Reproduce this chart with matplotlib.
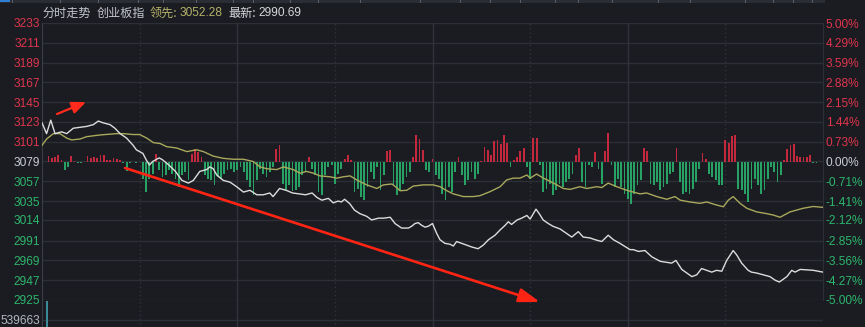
import matplotlib
matplotlib.use('Agg')
import matplotlib.pyplot as plt
from matplotlib.patches import Rectangle

# -------- data --------
price_ticks = [3233, 3211, 3189, 3167, 3145, 3123, 3101, 3079, 3057, 3035, 3014, 2991, 2969, 2947, 2925]
pct_labels = ['5.00%', '4.29%', '3.59%', '2.88%', '2.15%', '1.44%', '0.73%', '0.00%',
              '-0.71%', '-1.41%', '-2.12%', '-2.85%', '-3.56%', '-4.27%', '-5.00%']
prev_close = 3079

# index price (white), minute index -> price
white_t = [0, 1.4, 2.7, 4, 6, 7.6, 9.6, 13.7, 15.8, 17.3, 18.8, 20.9, 22.4, 24, 26, 28, 29, 31, 32, 33,
           34, 35, 36, 37, 39, 41, 43, 45, 46.5, 48.5, 50.6, 51.6, 52.6, 53.7, 55.7, 57.8, 59.8, 61.9, 63.9, 66,
           68, 70, 71, 73, 75, 77, 79, 81, 83, 84.5, 86, 88, 89.5, 91, 92, 93, 94.6, 96, 97.7, 99.8,
           101.3, 103.4, 105, 107, 108.5, 110.5, 112.6, 113.6, 114.6, 115.6, 116.7, 117.7, 118.7, 120, 121.3, 122.3, 123.8, 125.4, 126.4, 127.4,
           129, 130.5, 132, 134, 135.6, 137.2, 139.2, 140.8, 142.3, 143.3, 144.3, 146, 147.4, 149, 150, 151, 151.8, 152.8, 154, 155.6,
           157, 159.2, 161.2, 162.8, 164.8, 166.3, 168.4, 170, 172, 174, 175.6, 177.6, 180.7, 181.7, 183.3, 185.3, 187.4, 190, 193.5, 194.8,
           196.6, 199.7, 201.2, 202.7, 204.3, 205.8, 207.3, 208.9, 210.4, 212.4, 213.5, 215, 217, 218, 219.6, 221.7, 223.7, 225.3, 226.6, 228.9,
           230.4, 231.4, 233, 237, 240]
white_p = [3122, 3110, 3125, 3110, 3112, 3110, 3116, 3118, 3120, 3124, 3122, 3120, 3116, 3110, 3105, 3097, 3092, 3088, 3081, 3075,
           3079, 3081, 3083, 3081, 3075, 3068, 3058, 3055, 3058, 3068, 3070, 3073, 3071, 3064, 3058, 3056, 3051, 3045, 3047, 3042,
           3042, 3044, 3040, 3049, 3047, 3044, 3043, 3042, 3044, 3039, 3036, 3038, 3033, 3035, 3034, 3037, 3032, 3025, 3021, 3018,
           3014, 3016, 3016, 3017, 3010, 3005, 3005, 3007, 3010, 3011, 3008, 3006, 3007, 3010, 2999, 2992, 2988, 2987, 2985, 2990,
           2988, 2986, 2984, 2982, 2986, 2992, 2997, 3003, 3008, 3012, 3009, 3014, 3016, 3019, 3015, 3021, 3026, 3021, 3014, 3010,
           3007, 3004, 2999, 2995, 3001, 2995, 2994, 2992, 2990, 2997, 2992, 2988, 2981, 2981, 2979, 2980, 2973, 2968, 2966, 2969,
           2959, 2951, 2953, 2960, 2958, 2956, 2958, 2957, 2969, 2980, 2975, 2966, 2958, 2956, 2955, 2953, 2951, 2947, 2945, 2951,
           2958, 2956, 2959, 2958, 2956]

# leading index (yellow)
lead_t = [0, 1.4, 3.5, 5.5, 7.6, 9.1, 11.7, 13.7, 17.8, 23, 25, 28, 30, 32.2, 34.2, 36.3, 38.3, 41.4, 44.5, 47.5,
          49.6, 52.6, 55.7, 58.8, 61.9, 64.9, 67, 69, 72.1, 74.2, 77.2, 79.3, 81.3, 83.4, 85.4, 88.5, 90.6, 92.6, 94.7, 96.7,
          99.8, 102.9, 104.9, 107.5, 109, 110, 112.1, 114.1, 117.2, 120.2, 122.3, 124.4, 126.4, 129.5, 132.5, 134.6, 137.7, 140.8, 142.8, 144.8,
          146.9, 149, 150, 152, 154.1, 156.1, 158.2, 160.2, 162.3, 165.3, 167.4, 170.5, 172, 174, 176.6, 179.7, 181.7, 183.8, 185.8, 188.9,
          192, 194.5, 196.1, 199.1, 202.2, 204.3, 207.3, 209.4, 210.9, 212.4, 214.5, 216.6, 219.6, 222.7, 224.7, 226.8, 229.9, 233.9, 237, 240]
lead_p = [3097, 3104, 3110, 3110, 3105, 3103, 3104, 3106.6, 3108.5, 3110, 3110, 3109, 3109, 3105, 3100, 3099, 3095.5, 3094, 3090, 3092,
          3090, 3085, 3082.5, 3081.5, 3081.5, 3079, 3073, 3071, 3070, 3073, 3070, 3066, 3068, 3066, 3063, 3062, 3060.5, 3062, 3063, 3058.5,
          3053, 3049, 3053, 3054, 3050, 3046.5, 3047, 3051.7, 3053, 3053, 3051, 3046.5, 3043, 3040, 3040, 3041, 3045.5, 3051, 3058.5, 3060.5,
          3060.5, 3064, 3060.5, 3065, 3060.5, 3057, 3053, 3049, 3048, 3051, 3049, 3051, 3050, 3055, 3051, 3047, 3045, 3043, 3044, 3040,
          3037, 3040, 3036, 3034, 3032.5, 3034, 3030.6, 3028.7, 3036, 3040, 3032.5, 3027, 3023, 3021, 3019.5, 3017, 3023, 3027, 3029, 3028]

# buy/sell strength bars, one per minute
strength = [0, 0, 6, 4, 5, 7, 2, -8, -5, 6, 1, -1, -1, 0, 6, 4, 5, 4, 7, 7,
            2, 2, 4, 3, 2, -1, -9, -1, 0, -1, 0, -17, -30, -17, -12, 8, -8, -15, -13, -8,
            -12, -17, -25, -13, -10, -18, 8, 13, 10, 5, -13, -17, -18, -23, -15, -17, -12, -8, -7, -10,
            -8,
            -5, -10, -18, -25, -33, -18, -7, -12, -15, -10, -5, 13, 17, -22, -28, -23, -29, -28, -25, -13,
            -10, 5, -7, -13, -30, -33, -13, -5, -3, -22, -12, -7, 3, 7, 2, -30, -27, -35, -38, -25,
            -10, -17, -5, -28, -13, 11, 12, -23, -33, -28, -22, -15, -10, 5, 27, 23, 12, -8, -10, 3,
            -13,
            -17, -32, -38, -25, -30, -10, 5, -13, -23, -18, -10, -17, -12, 1, 15, 12, 7, 21, 22, 18,
            27, 19, -5, 2, 5, 11, 14, -5, -17, 24, 24, -3, -30, -27, -22, -33, -28, -22, -25, -20,
            -17, -12, 7, 14, -20, -25, -3, -5, 10, -7, -22, 11, 29, -3, -25, -17, -25, -32, -37, -42,
            -32,
            -23, -18, 14, 11, -22, -23, -20, -28, -25, -22, -12, -10, 14, -20, -32, -30, -32, -27, -20, -7,
            9, 3, -12, -15, -18, -23, -23, 22, 19, 26, 27, -27, -28, -32, -40, -27, -17, -23, -32, -28,
            -17, -5, -10, -20, -13, 2, 13, 17, 18, 6, 5, 5, 5, 7, -1, -1, 0, 0]

vol_t = [1.5]
vol_v = [1050000]
vol_tick = 539663

# -------- style --------
BG = '#1a1c21'
GRID = '#2c2f36'
RED = '#e0354d'
GREEN = '#2db66d'
NEUTRAL = '#c9ccd3'
TICK_FS = 8.6

plt.rcParams['font.family'] = ['Liberation Sans', 'Noto Sans CJK SC', 'DejaVu Sans']

fig = plt.figure(figsize=(8.65, 3.27), dpi=100)
fig.patch.set_facecolor(BG)

W, H = 865.0, 327.0
left, right, top, bot = 42 / W, 823 / W, 1 - 23 / H, 1 - 300 / H
rect = [left, bot, right - left, top - bot]

# base axes: grid + left labels
ax = fig.add_axes(rect)
ax.set_facecolor(BG)
ax.set_xlim(0, 240)
ax.set_ylim(2925, 3233)
ax.set_yticks(price_ticks)
ax.set_yticklabels([str(p) for p in price_ticks])
ax.set_xticks([])
ax.tick_params(axis='y', length=0, pad=1.5, labelsize=TICK_FS)
for lab, p in zip(ax.get_yticklabels(), price_ticks):
    lab.set_color(RED if p > prev_close else (GREEN if p < prev_close else NEUTRAL))
for p in price_ticks:
    ax.axhline(p, color=GRID, lw=1, zorder=0)
for k, t in enumerate([30, 60, 90, 120, 150, 180, 210]):
    ax.axvline(t, color='#30333a', lw=1, ls='-' if k % 2 else (0, (1, 2)), zorder=0)
for s in ax.spines.values():
    s.set_visible(False)
ax.spines['left'].set_visible(True)
ax.spines['left'].set_color('#3a3e46')
ax.spines['right'].set_visible(True)
ax.spines['right'].set_color('#2c2f36')

# bars
axb = ax.twinx()
axb.set_ylim(-138.5, 138.5)
axb.set_yticks([])
for s in axb.spines.values():
    s.set_visible(False)
minutes = list(range(len(strength)))
cols = ['#c3283d' if v > 0 else '#27a164' for v in strength]
axb.bar(minutes, strength, width=0.55, color=cols, linewidth=0)

# lines + right labels
axr = ax.twinx()
axr.set_ylim(2925, 3233)
axr.set_xlim(0, 240)
axr.set_yticks(price_ticks)
axr.set_yticklabels(pct_labels)
axr.tick_params(axis='y', length=0, pad=2, labelsize=TICK_FS)
for lab, p in zip(axr.get_yticklabels(), price_ticks):
    lab.set_color(RED if p > prev_close else (GREEN if p < prev_close else NEUTRAL))
for s in axr.spines.values():
    s.set_visible(False)
axr.plot(lead_t, lead_p, color='#a9a85c', lw=1.0)
axr.plot(white_t, white_p, color='#dcdcdc', lw=1.0)

# red annotation arrows
axr.annotate('', xy=(13.5, 3145), xytext=(4.6, 3131.8),
             arrowprops=dict(arrowstyle='-|>,head_length=0.7,head_width=0.3', color='#ff2b1c',
                             lw=1.6, mutation_scale=12, shrinkA=0, shrinkB=0))
axr.annotate('', xy=(153, 2922.8), xytext=(25.5, 3071.8), annotation_clip=False,
             arrowprops=dict(arrowstyle='-|>,head_length=0.9,head_width=0.3', color='#ff2414',
                             lw=1.9, mutation_scale=14, shrinkA=0, shrinkB=0))

# volume strip (runs below the visible canvas)
axv = fig.add_axes([left, 1 - 340 / H, right - left, 40 / H])
axv.set_facecolor(BG)
axv.set_xlim(0, 240)
axv.set_ylim(0, 2 * vol_tick)
axv.set_yticks([vol_tick])
axv.set_yticklabels([str(vol_tick)])
axv.set_xticks([])
axv.tick_params(axis='y', length=0, pad=1.5, labelsize=TICK_FS, labelcolor='#b4b8bf')
axv.axhline(vol_tick, color=GRID, lw=1, zorder=0)
for k, t in enumerate([30, 60, 90, 120, 150, 180, 210]):
    axv.axvline(t, color='#30333a', lw=1, ls='-' if k % 2 else (0, (1, 2)), zorder=0)
for s in axv.spines.values():
    s.set_visible(False)
axv.spines['left'].set_visible(True)
axv.spines['left'].set_color('#3a3e46')
axv.bar(vol_t, vol_v, width=0.6, color='#3d8a99', linewidth=0)
ax.set_zorder(1)
axb.set_zorder(2)
axr.set_zorder(3)

# cut-off tab strip along the top edge
fig.patches.append(Rectangle((0, 1 - 3 / H), 825 / W, 3 / H, transform=fig.transFigure,
                             facecolor='#2a2d33', edgecolor='none'))
fig.patches.append(Rectangle((0, 1 - 1.5 / H), 10 / W, 1.5 / H, transform=fig.transFigure,
                             facecolor='#2f7fd6', edgecolor='none'))
for sx in [12, 60, 98, 138, 163, 196, 233, 253, 290, 318, 360, 420, 460, 490, 520, 555, 578, 612, 658, 690, 745, 773, 793, 812]:
    fig.patches.append(Rectangle((sx / W, 1 - 3 / H), 1 / W, 3 / H, transform=fig.transFigure,
                                 facecolor='#5a5e66', edgecolor='none'))

# header text
hy = 1 - 13 / H
hf = ['Noto Sans CJK SC', 'DejaVu Sans']
fig.text(42 / W, hy, '分时走势', color='#c3c6cc', fontsize=8.7, va='center', family=hf)
fig.text(97 / W, hy, '创业板指', color='#c3c6cc', fontsize=8.7, va='center', family=hf)
fig.text(150 / W, hy, '领先:', color='#b6b26a', fontsize=8.7, va='center', family=hf)
fig.text(180 / W, hy, '3052.28', color='#b6b26a', fontsize=8.6, va='center')
fig.text(228 / W, hy, '最新:', color='#d4d6da', fontsize=8.7, va='center', family=hf)
fig.text(258 / W, hy, '2990.69', color='#d4d6da', fontsize=8.6, va='center')

fig.savefig('out.png', dpi=100, facecolor=BG)
